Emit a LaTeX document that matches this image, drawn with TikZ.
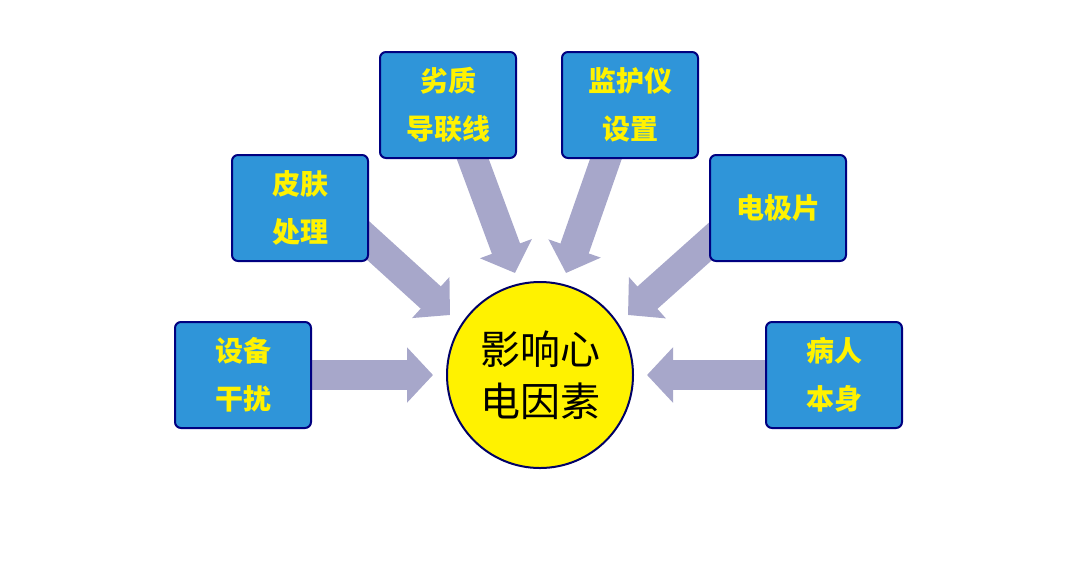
\documentclass[tikz,border=0pt]{standalone}
\usepackage{fontspec}
\newfontfamily\cjk{Noto Sans CJK SC}
\usetikzlibrary{arrows.meta,backgrounds}
\begin{document}
\begin{tikzpicture}[x=0.5pt,y=-0.5pt,
  box/.style={draw=blue!50!black,line width=1pt,fill=cyan!70!blue!85,rounded corners=3pt,minimum width=68pt,minimum height=53pt,align=center,text=yellow,font=\cjk\bfseries\fontsize{14}{24}\selectfont},
  arr/.style={draw=blue!25!gray!55,line width=15pt,-{Triangle[length=13pt,width=27pt]}}]
\useasboundingbox (0,0) rectangle (1080,569);
\node[circle,draw=blue!40!black,line width=1pt,fill=yellow,minimum size=93pt,align=center,font=\cjk\fontsize{20}{26}\selectfont] (c) at (540,375) {影响心\\电因素};
\node[box] (b1) at (243,375) {设备\\干扰};
\node[box] (b2) at (300,208) {皮肤\\处理};
\node[box] (b3) at (448,105) {劣质\\导联线};
\node[box] (b4) at (630,105) {监护仪\\设置};
\node[box] (b5) at (778,208) {电极片};
\node[box] (b6) at (834,375) {病人\\本身};
\coordinate (s2) at (340,215); \coordinate (e2) at (450,315);
\coordinate (s3) at (462,130); \coordinate (e3) at (515,273);
\coordinate (s4) at (616,130); \coordinate (e4) at (566,273);
\coordinate (s5) at (740,215); \coordinate (e5) at (628,315);
\coordinate (e1) at (433,375); \coordinate (e6) at (647,375);
\begin{scope}[on background layer]
\draw[arr] (b1.center) -- (e1);
\draw[arr] (s2) -- (e2);
\draw[arr] (s3) -- (e3);
\draw[arr] (s4) -- (e4);
\draw[arr] (s5) -- (e5);
\draw[arr] (b6.center) -- (e6);
\end{scope}
\end{tikzpicture}
\end{document}
